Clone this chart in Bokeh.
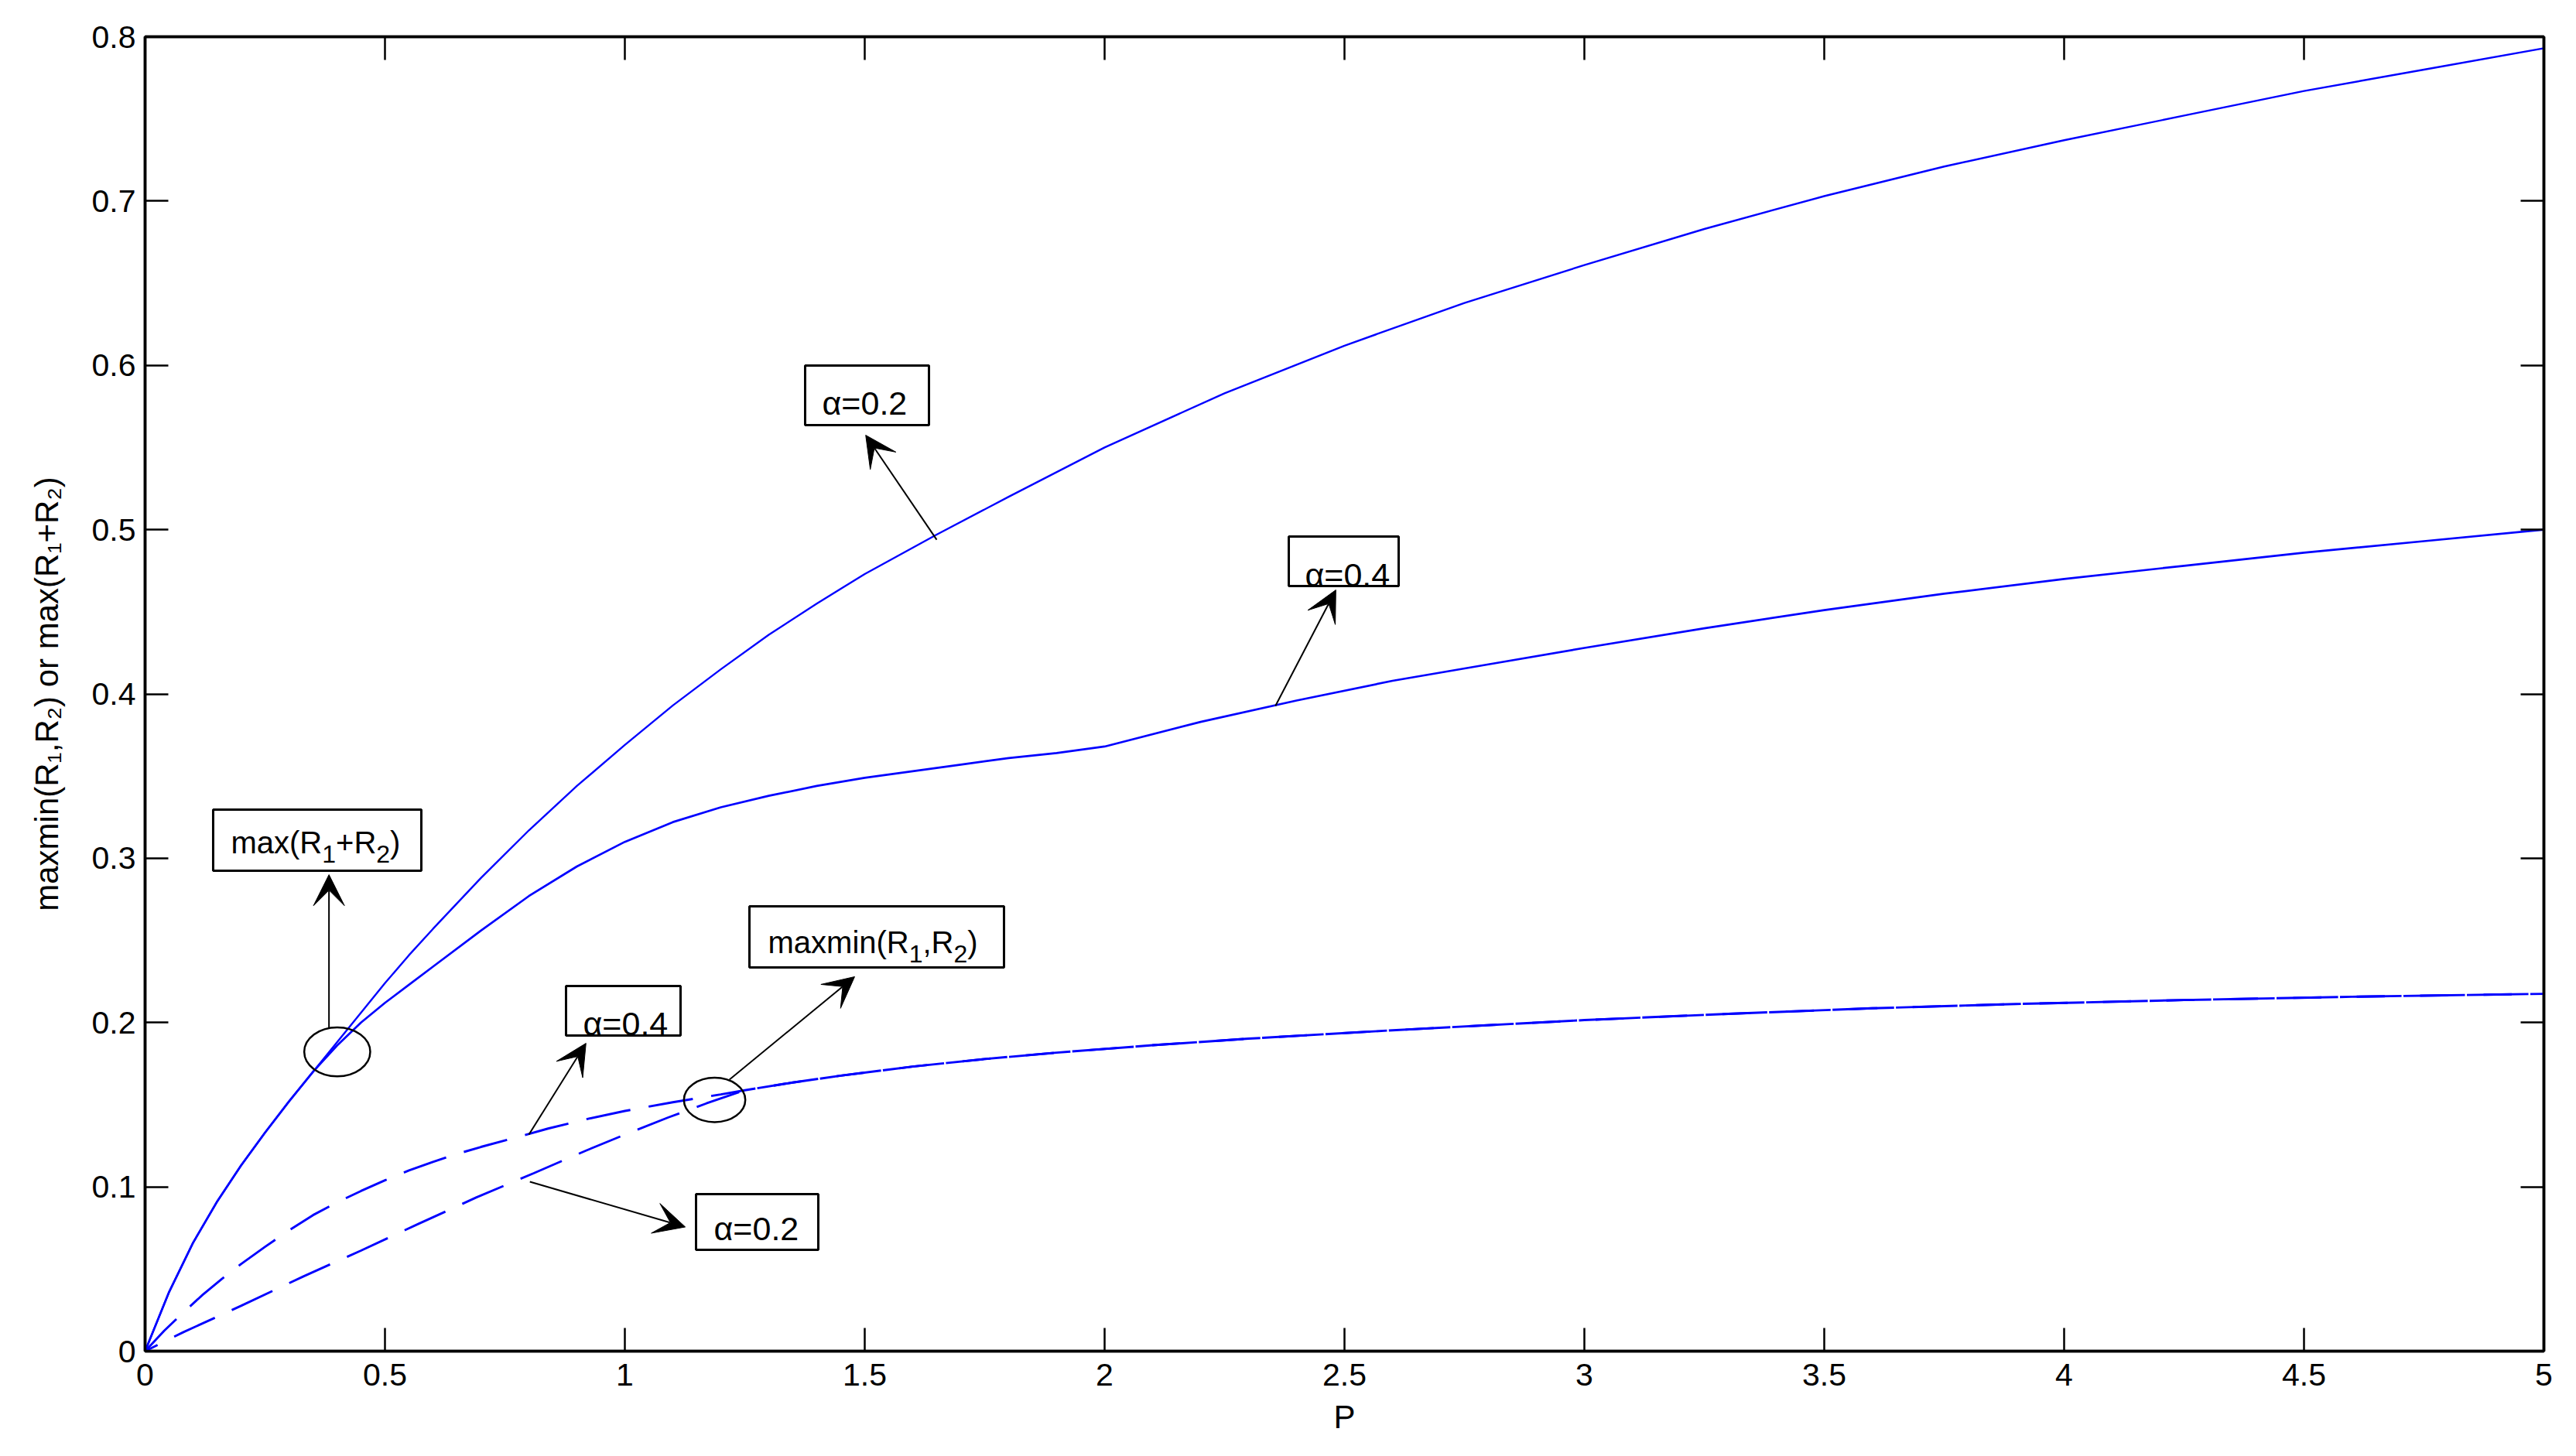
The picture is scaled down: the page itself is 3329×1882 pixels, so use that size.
import math
from bokeh.plotting import figure
from bokeh.models import Range1d, FixedTicker, LinearAxis, Label, Arrow, VeeHead
from bokeh.embed import file_html
from bokeh.resources import INLINE

# ---------------- data ----------------
# max(R1+R2), alpha = 0.2 (solid)
p_sum_a02 = [0, 0.05, 0.1, 0.15, 0.2, 0.25, 0.3, 0.35, 0.4, 0.45, 0.5, 0.55, 0.6, 0.7, 0.8, 0.9,
             1.0, 1.1, 1.2, 1.3, 1.4, 1.5, 1.65, 1.8, 2.0, 2.25, 2.5, 2.75, 3.0, 3.25, 3.5, 3.75,
             4.0, 4.25, 4.5, 4.75, 5.0]
r_sum_a02 = [0, 0.036, 0.066, 0.091, 0.113, 0.133, 0.152, 0.17, 0.188, 0.206, 0.224, 0.241, 0.257, 0.288, 0.317, 0.344,
             0.369, 0.393, 0.415, 0.436, 0.455, 0.473, 0.497, 0.52, 0.55, 0.583, 0.612, 0.638, 0.661, 0.683, 0.703, 0.721,
             0.737, 0.752, 0.767, 0.78, 0.793]

# max(R1+R2), alpha = 0.4 (solid)
p_sum_a04 = [0, 0.05, 0.1, 0.15, 0.2, 0.25, 0.3, 0.35, 0.4, 0.45, 0.5, 0.55, 0.6, 0.7, 0.8, 0.9,
             1.0, 1.1, 1.2, 1.3, 1.4, 1.5, 1.6, 1.7, 1.8, 1.9, 2.0, 2.2, 2.4, 2.6, 2.8, 3.0, 3.25,
             3.5, 3.75, 4.0, 4.25, 4.5, 4.75, 5.0]
r_sum_a04 = [0, 0.036, 0.066, 0.091, 0.113, 0.133, 0.152, 0.17, 0.186, 0.2, 0.212, 0.223, 0.234, 0.256, 0.277, 0.295,
             0.31, 0.322, 0.331, 0.338, 0.344, 0.349, 0.353, 0.357, 0.361, 0.364, 0.368, 0.383, 0.396, 0.408, 0.418, 0.428, 0.44,
             0.451, 0.461, 0.47, 0.478, 0.486, 0.493, 0.5]

# maxmin(R1,R2), alpha = 0.4 (dashed)
p_mm_a04 = [0, 0.04, 0.08, 0.12, 0.16, 0.2, 0.25, 0.3, 0.35, 0.4, 0.45, 0.5, 0.55, 0.6, 0.65, 0.7, 0.76,
            0.84, 0.92, 1.0, 1.1, 1.2, 1.25, 1.35, 1.45, 1.6, 1.75, 1.9, 2.1, 2.3, 2.6, 3.0, 3.3, 3.6,
            3.9, 4.25, 4.6, 5.0]
r_mm_a04 = [0, 0.0125, 0.0236, 0.0343, 0.044, 0.053, 0.0635, 0.0735, 0.0828, 0.0905, 0.0975, 0.104, 0.11, 0.1152, 0.12, 0.1243, 0.129,
            0.1355, 0.1412, 0.1462, 0.1515, 0.1563, 0.1588, 0.1635, 0.1677, 0.1732, 0.1778, 0.1817, 0.1862, 0.1902, 0.1953, 0.2015, 0.2053, 0.2087,
            0.2113, 0.2137, 0.2157, 0.2175]

# maxmin(R1,R2), alpha = 0.2 (dashed)
p_mm_a02 = [0, 0.08, 0.2, 0.33, 0.45, 0.57, 0.69, 0.81, 0.92, 1.0, 1.09, 1.17, 1.25,
            1.35, 1.45, 1.6, 1.75, 1.9, 2.1, 2.3, 2.6, 3.0, 3.3, 3.6, 3.9, 4.25, 4.6, 5.0]
r_mm_a02 = [0, 0.0116, 0.0276, 0.0455, 0.0612, 0.0775, 0.0935, 0.1083, 0.1222, 0.1318, 0.1422, 0.1508, 0.1588,
            0.1635, 0.1677, 0.1732, 0.1778, 0.1817, 0.1862, 0.1902, 0.1953, 0.2015, 0.2053, 0.2087, 0.2113, 0.2137, 0.2157, 0.2175]

x_ticks = [0, 0.5, 1, 1.5, 2, 2.5, 3, 3.5, 4, 4.5, 5]
x_tick_labels = ["0", "0.5", "1", "1.5", "2", "2.5", "3", "3.5", "4", "4.5", "5"]
y_ticks = [0, 0.1, 0.2, 0.3, 0.4, 0.5, 0.6, 0.7, 0.8]
y_tick_labels = ["0", "0.1", "0.2", "0.3", "0.4", "0.5", "0.6", "0.7", "0.8"]

x_title = "P"
y_title = "maxmin(R\u2081,R\u2082) or max(R\u2081+R\u2082)"

# ---------------- figure ----------------
FONT = "Liberation Sans"
BLUE = "#0000ff"

p = figure(width=3320, height=1870, output_backend="svg", toolbar_location=None,
           x_range=Range1d(0, 5), y_range=Range1d(0, 0.8),
           min_border_left=187, min_border_right=33, min_border_top=47, min_border_bottom=124)
p.background_fill_color = "white"
p.border_fill_color = "white"
p.outline_line_color = "black"
p.outline_line_width = 3.5
p.grid.visible = False


def style_axis(ax, ticks, labels, show_labels=True):
    ax.ticker = FixedTicker(ticks=ticks)
    ax.major_label_overrides = {t: (l if show_labels else "") for t, l in zip(ticks, labels)}
    ax.major_tick_in = 30
    ax.major_tick_out = 0
    ax.minor_tick_line_color = None
    ax.axis_line_width = 3.5
    ax.axis_line_color = "black"
    ax.major_tick_line_width = 2.5
    ax.major_tick_line_color = "black"
    ax.major_label_text_font = FONT
    ax.major_label_text_font_size = "41px" if show_labels else "10px"
    ax.major_label_text_color = "black"


style_axis(p.xaxis[0], x_ticks, x_tick_labels)
style_axis(p.yaxis[0], y_ticks, y_tick_labels)
p.xaxis[0].major_label_standoff = 16
p.yaxis[0].major_label_standoff = 12
for ax, title, standoff in [(p.xaxis[0], x_title, 14), (p.yaxis[0], y_title, 32)]:
    ax.axis_label = title
    ax.axis_label_text_font = FONT
    ax.axis_label_text_font_size = "42px"
    ax.axis_label_text_font_style = "normal"
    ax.axis_label_text_color = "black"
    ax.axis_label_standoff = standoff

top_ax = LinearAxis()
style_axis(top_ax, x_ticks, x_tick_labels, show_labels=False)
p.add_layout(top_ax, "above")
right_ax = LinearAxis()
style_axis(right_ax, y_ticks, y_tick_labels, show_labels=False)
p.add_layout(right_ax, "right")

# ---------------- curves ----------------
p.line(p_sum_a02, r_sum_a02, line_color=BLUE, line_width=2.4)
p.line(p_sum_a04, r_sum_a04, line_color=BLUE, line_width=2.7)
p.line(p_mm_a04, r_mm_a04, line_color=BLUE, line_width=2.9, line_dash="58 24")
p.line(p_mm_a02, r_mm_a02, line_color=BLUE, line_width=2.9, line_dash="58 24", line_dash_offset=40)

# ---------------- annotations ----------------
ARIAL = {'m': 833, 'a': 556, 'x': 500, 'i': 222, 'n': 556, '(': 333, ')': 333, 'R': 722,
         ',': 278, '+': 584, ' ': 278, 'o': 556, 'r': 333, '1': 556, '2': 556}
TEXT_LIFT = 9  # px


def advance(s, size):
    return sum(ARIAL[c] for c in s) * size / 1000.0


def rich_text(x, y, parts, main_size, sub_size, sub_shift):
    off = 0.0
    for txt, sub in parts:
        size = sub_size if sub else main_size
        p.add_layout(Label(x=x, y=y, x_offset=off, y_offset=TEXT_LIFT - (sub_shift if sub else 0),
                           text=txt, text_font=FONT, text_font_size=f"{size}px", text_color="black",
                           text_align="left", text_baseline="alphabetic"))
        off += advance(txt, size)


# text boxes
p.quad(left=[1.3758, 2.3839, 0.1419, 0.8774, 1.1484, 1.2597],
       right=[1.6339, 2.6129, 0.5758, 1.1161, 1.4032, 1.7903],
       bottom=[0.5636, 0.4657, 0.2924, 0.1921, 0.0617, 0.2336],
       top=[0.5999, 0.4958, 0.3296, 0.2222, 0.0956, 0.2707],
       fill_color=None, line_color="black", line_width=3)

for tx, ty, t in [(1.4113, 0.5726, "α=0.2"), (2.4177, 0.4685, "α=0.4"),
                  (0.9129, 0.1954, "α=0.4"), (1.1855, 0.0702, "α=0.2")]:
    p.add_layout(Label(x=tx, y=ty, y_offset=TEXT_LIFT, text=t, text_font=FONT, text_font_size="43px",
                       text_color="black", text_align="left", text_baseline="alphabetic"))

rich_text(0.179, 0.3053, [("max(R", False), ("1", True), ("+R", False), ("2", True), (")", False)],
          40, 32, 15)
rich_text(1.2984, 0.2448, [("maxmin(R", False), ("1", True), (",R", False), ("2", True), (")", False)],
          40, 32, 15)

# ellipses marking the curve groups
p.ellipse(x=[0.4005, 1.1871], y=[0.1822, 0.1529], width=[0.1376, 0.128], height=[0.0298, 0.027],
          fill_color=None, line_color="black", line_width=2.5)

# arrows
for xs, ys, xe, ye in [(1.650, 0.4939, 1.502, 0.5575),
                       (2.356, 0.3927, 2.482, 0.4633),
                       (0.3833, 0.1970, 0.3833, 0.2900),
                       (0.800, 0.1318, 0.919, 0.1874),
                       (0.802, 0.1031, 1.126, 0.0756),
                       (1.218, 0.1653, 1.479, 0.2279)]:
    p.add_layout(Arrow(x_start=xs, y_start=ys, x_end=xe, y_end=ye, line_color="black", line_width=2,
                       end=VeeHead(size=40, fill_color="black", line_color="black", line_width=1)))

open("out.html", "w").write(file_html(p, INLINE))
